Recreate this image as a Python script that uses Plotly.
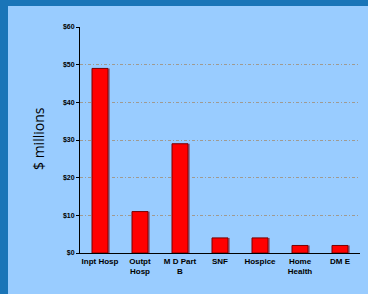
import plotly.graph_objects as go

categories = ["Inpt Hosp", "Outpt<br>Hosp", "M D Part<br>B", "SNF", "Hospice", "Home<br>Health", "DM E"]
values = [49, 11, 29, 4, 4, 2, 2]
tick_vals = [0, 10, 20, 30, 40, 50, 60]
tick_text = ["$0", "$10", "$20", "$30", "$40", "$50", "$60"]

W, H = 368, 294
L, R, T, B = 80, 8, 27, 41
pw, ph = W - L - R, H - T - B

def px_x(x):
    return (x - L) / pw

def px_y(y):
    return (H - B - y) / ph

idx = list(range(len(categories)))

fig = go.Figure()
# shadow
fig.add_trace(go.Bar(x=idx, y=values, width=0.4, offset=-0.2 + 0.05,
                     marker=dict(color="#8878a0", line=dict(width=0)),
                     hoverinfo="skip", showlegend=False))
fig.add_trace(go.Bar(x=idx, y=values, width=0.4, offset=-0.2,
                     marker=dict(color="#ff0000", line=dict(color="#7a0000", width=1)),
                     showlegend=False))

fig.update_layout(
    width=W, height=H,
    margin=dict(l=L, r=R, t=T, b=B),
    paper_bgcolor="#99ccff",
    plot_bgcolor="#99ccff",
    barmode="overlay",
    xaxis=dict(range=[-0.5, 6.5], tickmode="array", tickvals=idx, ticktext=categories,
               showgrid=False, zeroline=False, showline=True, linecolor="#000000", linewidth=1,
               ticks="", tickfont=dict(family="Liberation Sans, Arial", size=8, color="#000000",
                                       weight="bold")),
    yaxis=dict(range=[0, 60], tickmode="array", tickvals=tick_vals, ticktext=tick_text,
               showgrid=True, gridcolor="#a09a90", griddash="3px,2px,1px,2px", gridwidth=1,
               zeroline=False, showline=True, linecolor="#000000", linewidth=1,
               ticks="outside", ticklen=3, tickcolor="#000000",
               tickfont=dict(family="Liberation Sans, Arial", size=7, color="#000000",
                             weight="bold")),
    shapes=[
        dict(type="rect", xref="paper", yref="paper", x0=px_x(0), x1=px_x(8),
             y0=px_y(H), y1=px_y(0), fillcolor="#1a75b8", line=dict(width=0), layer="below"),
        dict(type="rect", xref="paper", yref="paper", x0=px_x(0), x1=px_x(W),
             y0=px_y(6), y1=px_y(0), fillcolor="#1a75b8", line=dict(width=0), layer="below"),
    ],
    annotations=[
        dict(text="$ millions", xref="paper", yref="paper", x=px_x(38), y=px_y(139),
             xanchor="center", yanchor="middle", textangle=-90, showarrow=False,
             font=dict(family="Open Sans", size=14, color="#000000")),
    ],
)

fig.write_html("out.html", config={"displayModeBar": False},
               post_script="document.body.style.margin='0';document.body.style.overflow='hidden';")
